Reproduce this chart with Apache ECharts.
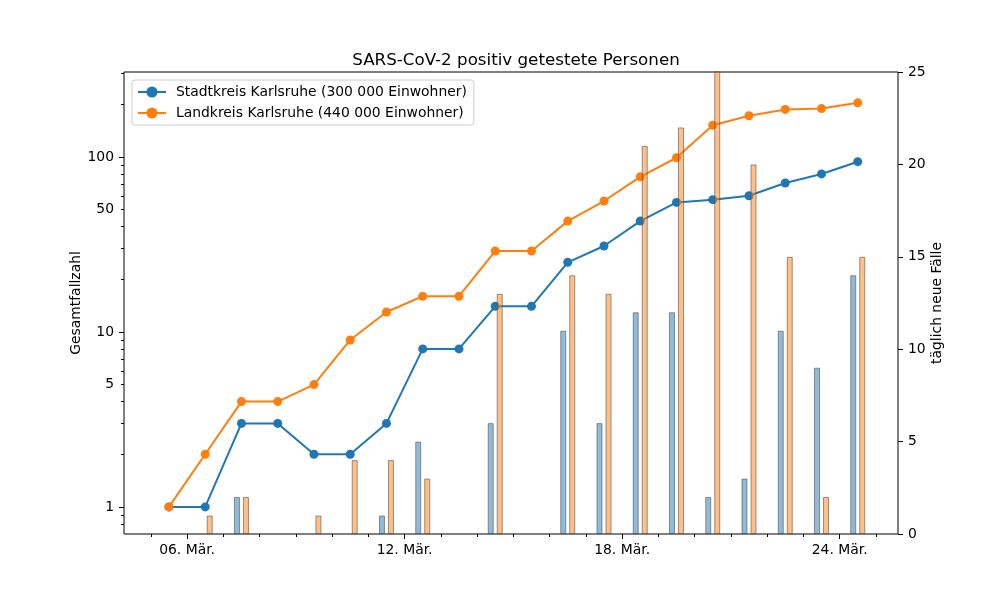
<!DOCTYPE html>
<html>
<head>
<meta charset="utf-8">
<script src="https://cdn.jsdelivr.net/npm/echarts@6/dist/echarts.min.js"></script>
<style>
  html, body { margin: 0; padding: 0; background: #fff; }
  #chart { width: 1000px; height: 600px; }
</style>
</head>
<body>
<div id="chart"></div>
<script>
// Tag im März
const days = [5, 6, 7, 8, 9, 10, 11, 12, 13, 14, 15, 16, 17, 18, 19, 20, 21, 22, 23, 24];
const stadtGesamt = [1, 1, 3, 3, 2, 2, 3, 8, 8, 14, 14, 25, 31, 43, 55, 57, 60, 71, 80, 94];
const landGesamt = [1, 2, 4, 4, 5, 9, 13, 16, 16, 29, 29, 43, 56, 77, 99, 152, 172, 187, 189, 204];
const stadtNeu = [null, 0, 2, 0, null, 0, 1, 5, 0, 6, 0, 11, 6, 12, 12, 2, 3, 11, 9, 14];
const landNeu = [null, 1, 2, 0, 1, 4, 4, 3, 0, 13, 0, 14, 13, 21, 22, 53, 20, 15, 2, 15];
const tickDays = [6, 12, 18, 24];
const tickLabels = ['06. Mär.', '12. Mär.', '18. Mär.', '24. Mär.'];
const minorDays = [5, 7, 8, 9, 10, 11, 13, 14, 15, 16, 17, 19, 20, 21, 22, 23, 25];
const logLabels = [1, 5, 10, 50, 100];
const logMajor = [1, 10, 100];
const logMinor = [0.8, 0.9, 2, 3, 4, 5, 6, 7, 8, 9, 20, 30, 40, 50, 60, 70, 80, 90, 200, 300];

const font = 'DejaVu Sans';
const blue = '#1f77b4';
const orange = '#ff7f0e';

// Messzeitpunkt jeweils Tagesmitte
const pts = arr => arr.map((v, i) => [days[i] + 0.5, v]);
// leere Tage (0 oder keine Angabe) ohne Balken
const barPts = arr => arr.map((v, i) => v ? [days[i] + 0.5, v] : [days[i] + 0.5, '-']);

const chart = echarts.init(document.getElementById('chart'));

const options = {
    animation: false,
    title: {
        text: 'SARS-CoV-2 positiv getestete Personen',
        left: 511,
        top: 47,
        textAlign: 'center',
        textStyle: { fontFamily: font, fontSize: 16.7, fontWeight: 'normal', color: '#000' }
    },
    legend: {
        orient: 'vertical',
        left: 132,
        top: 80,
        padding: [5, 7, 5, 5],
        itemGap: 7,
        itemWidth: 28,
        itemHeight: 14,
        borderColor: '#cccccc',
        borderWidth: 1,
        borderRadius: 3,
        backgroundColor: 'rgba(255,255,255,0.8)',
        textStyle: { fontFamily: font, fontSize: 13.9, color: '#000', padding: [0, 0, 0, 5] },
        data: ['Stadtkreis Karlsruhe (300 000 Einwohner)', 'Landkreis Karlsruhe (440 000 Einwohner)']
    },
    grid: {
        left: 124, right: 102, top: 72, bottom: 66,
        show: true, borderColor: '#000', borderWidth: 1, backgroundColor: 'transparent'
    },
    xAxis: [
        {
            type: 'value',
            min: 4.26,
            max: 25.61,
            splitLine: { show: false },
            axisLine: { show: false },
            axisTick: { customValues: tickDays, length: 5, lineStyle: { color: '#000' } },
            axisLabel: {
                customValues: tickDays,
                margin: 9,
                fontFamily: font, fontSize: 13.9, color: '#000',
                formatter: v => tickLabels[tickDays.indexOf(Math.round(v))]
            }
        },
        {
            type: 'value',
            position: 'bottom',
            min: 4.26,
            max: 25.61,
            splitLine: { show: false },
            axisLine: { show: false },
            axisTick: { customValues: minorDays, length: 3, lineStyle: { color: '#000' } },
            axisLabel: { show: false }
        }
    ],
    yAxis: [
        {
            type: 'log',
            logBase: 10,
            min: 0.7,
            max: 306,
            name: 'Gesamtfallzahl',
            nameLocation: 'middle',
            nameGap: 41,
            nameMoveOverlap: false,
            nameRotate: 90,
            nameTextStyle: { fontFamily: font, fontSize: 13.9, color: '#000' },
            splitLine: { show: false },
            axisLine: { show: false },
            axisTick: { customValues: logMajor, length: 5, lineStyle: { color: '#000' } },
            axisLabel: {
                customValues: logLabels,
                margin: 10,
                fontFamily: font, fontSize: 13.9, color: '#000'
            }
        },
        {
            type: 'value',
            position: 'right',
            min: 0,
            max: 25,
            interval: 5,
            name: 'täglich neue Fälle',
            nameLocation: 'middle',
            nameGap: 32,
            nameMoveOverlap: false,
            nameRotate: 90,
            nameTextStyle: { fontFamily: font, fontSize: 13.9, color: '#000' },
            splitLine: { show: false },
            axisLine: { show: false },
            axisTick: { show: true, length: 5, lineStyle: { color: '#000' } },
            axisLabel: { margin: 10, fontFamily: font, fontSize: 13.9, color: '#000' }
        },
        {
            type: 'log',
            logBase: 10,
            min: 0.7,
            max: 306,
            position: 'left',
            splitLine: { show: false },
            axisLine: { show: false },
            axisTick: { customValues: logMinor, length: 3, lineStyle: { color: '#000' } },
            axisLabel: { show: false }
        }
    ],
    series: [
        {
            name: 'Stadtkreis Karlsruhe (300 000 Einwohner)',
            type: 'line',
            yAxisIndex: 0,
            data: pts(stadtGesamt),
            symbol: 'circle',
            symbolSize: 9,
            color: blue,
            lineStyle: { width: 2 },
            z: 2
        },
        {
            name: 'Landkreis Karlsruhe (440 000 Einwohner)',
            type: 'line',
            yAxisIndex: 0,
            data: pts(landGesamt),
            symbol: 'circle',
            symbolSize: 9,
            color: orange,
            lineStyle: { width: 2 },
            z: 2
        },
        {
            name: 'Stadt neu',
            type: 'bar',
            yAxisIndex: 1,
            data: barPts(stadtNeu),
            barWidth: 6,
            barGap: '50%',
            itemStyle: { color: 'rgba(31,119,180,0.5)', borderColor: 'rgba(70,70,70,0.55)', borderWidth: 1 },
            z: 3
        },
        {
            name: 'Land neu',
            type: 'bar',
            yAxisIndex: 1,
            data: barPts(landNeu),
            barWidth: 6,
            barGap: '50%',
            itemStyle: { color: 'rgba(255,127,14,0.5)', borderColor: 'rgba(70,70,70,0.55)', borderWidth: 1 },
            z: 3
        }
    ]
};

chart.setOption(options);
</script>
</body>
</html>
